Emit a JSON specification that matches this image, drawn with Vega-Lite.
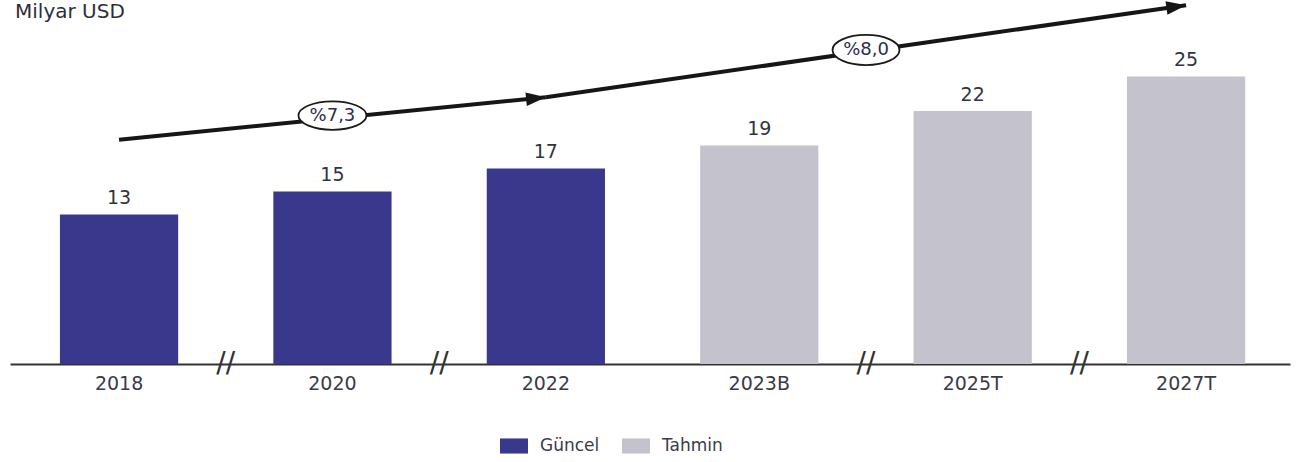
{
  "$schema": "https://vega.github.io/schema/vega-lite/v6.json",
  "width": 1280,
  "height": 344,
  "autosize": {"type": "none"},
  "padding": {"left": 10, "top": 20, "right": 7, "bottom": 98},
  "background": "white",
  "config": {"view": {"stroke": null}, "font": "DejaVu Sans"},
  "datasets": {
    "bars": [
      {"cat": "2018", "v": 13, "type": "Güncel"},
      {"cat": "2020", "v": 15, "type": "Güncel"},
      {"cat": "2022", "v": 17, "type": "Güncel"},
      {"cat": "2023B", "v": 19, "type": "Tahmin"},
      {"cat": "2025T", "v": 22, "type": "Tahmin"},
      {"cat": "2027T", "v": 25, "type": "Tahmin"}
    ],
    "trend": [
      {"seg": "a", "cat": "2018", "v": 19.5},
      {"seg": "a", "cat": "2022", "v": 23.2},
      {"seg": "b", "cat": "2022", "v": 23.2},
      {"seg": "b", "cat": "2027T", "v": 31.2}
    ],
    "cagr": [
      {"cat": "2020", "v": 21.6, "label": "%7,3"},
      {"cat": "2023B", "v": 27.3, "label": "%8,0"}
    ],
    "breaks": [
      {"cat": "2018", "v": 0},
      {"cat": "2020", "v": 0},
      {"cat": "2023B", "v": 0},
      {"cat": "2025T", "v": 0}
    ],
    "unit": [
      {"cat": "2018", "v": 30.1, "label": "Milyar USD"}
    ]
  },
  "encoding": {
    "x": {
      "field": "cat",
      "type": "nominal",
      "title": null,
      "scale": {
        "domain": ["2018", "2020", "2022", "2023B", "2025T", "2027T"],
        "paddingInner": 0.446,
        "paddingOuter": 0.222,
        "align": 0.527,
        "round": false
      },
      "axis": {
        "domainColor": "#333333",
        "domainWidth": 2,
        "ticks": false,
        "labelAngle": 0,
        "labelFont": "DejaVu Sans",
        "labelFontSize": 19,
        "labelColor": "#3a3a48",
        "labelPadding": 10
      }
    },
    "y": {
      "field": "v",
      "type": "quantitative",
      "axis": null,
      "scale": {"domain": [0, 29.91], "nice": false, "zero": true}
    }
  },
  "layer": [
    {
      "data": {"name": "bars"},
      "mark": {"type": "bar"},
      "encoding": {
        "color": {
          "field": "type",
          "type": "nominal",
          "scale": {"domain": ["Güncel", "Tahmin"], "range": ["#3a388c", "#c3c2cd"]},
          "legend": {
            "title": null,
            "orient": "none",
            "legendX": 490,
            "legendY": 412,
            "direction": "horizontal",
            "symbolType": "M-1,-0.54H1V0.54H-1Z",
            "symbolSize": 784,
            "symbolStrokeWidth": 0,
            "labelFont": "DejaVu Sans",
            "labelFontSize": 17,
            "labelColor": "#3a3a48",
            "labelOffset": 12,
            "columnPadding": 22,
            "padding": 0
          }
        }
      }
    },
    {
      "data": {"name": "bars"},
      "mark": {"type": "text", "baseline": "bottom", "dy": -6, "fontSize": 19, "color": "#333340", "font": "DejaVu Sans"},
      "encoding": {"text": {"field": "v", "type": "quantitative"}}
    },
    {
      "data": {"name": "trend"},
      "mark": {"type": "line", "strokeWidth": 4, "color": "#161616"},
      "encoding": {"detail": {"field": "seg"}}
    },
    {
      "data": {"name": "trend"},
      "transform": [{"filter": "datum.seg == 'a' && datum.cat == '2022'"}],
      "mark": {"type": "point", "shape": "M-2.2,-0.75L0,0L-2.2,0.75Z", "size": 324, "filled": true, "opacity": 1, "color": "#161616", "angle": -5.8}
    },
    {
      "data": {"name": "trend"},
      "transform": [{"filter": "datum.seg == 'b' && datum.cat == '2027T'"}],
      "mark": {"type": "point", "shape": "M-2.2,-0.75L0,0L-2.2,0.75Z", "size": 324, "filled": true, "opacity": 1, "color": "#161616", "angle": -8.2}
    },
    {
      "data": {"name": "cagr"},
      "transform": [{"filter": "datum.cat == '2020'"}],
      "mark": {"type": "point", "shape": "M-1,0A1,0.42,0,1,0,1,0A1,0.42,0,1,0,-1,0Z", "size": 4624, "filled": true, "fill": "white", "stroke": "#1a1a1a", "strokeWidth": 1.8, "opacity": 1}
    },
    {
      "data": {"name": "cagr"},
      "transform": [{"filter": "datum.cat == '2020'"}],
      "mark": {"type": "text", "fontSize": 18, "color": "#2d2d4f", "font": "DejaVu Sans", "baseline": "middle"},
      "encoding": {"text": {"field": "label"}}
    },
    {
      "data": {"name": "cagr"},
      "transform": [{"filter": "datum.cat == '2023B'"}],
      "mark": {"type": "point", "shape": "M-1,0A1,0.45,0,1,0,1,0A1,0.45,0,1,0,-1,0Z", "size": 4489, "filled": true, "fill": "white", "stroke": "#1a1a1a", "strokeWidth": 1.8, "opacity": 1},
      "encoding": {"x": {"field": "cat", "type": "nominal", "bandPosition": 1.403}}
    },
    {
      "data": {"name": "cagr"},
      "transform": [{"filter": "datum.cat == '2023B'"}],
      "mark": {"type": "text", "fontSize": 18, "color": "#2d2d4f", "font": "DejaVu Sans", "baseline": "middle"},
      "encoding": {"x": {"field": "cat", "type": "nominal", "bandPosition": 1.403}, "text": {"field": "label"}}
    },
    {
      "data": {"name": "breaks"},
      "mark": {"type": "text", "text": "//", "fontSize": 28, "color": "#333333", "font": "DejaVu Sans", "baseline": "middle"},
      "encoding": {"x": {"field": "cat", "type": "nominal", "bandPosition": 1.403}}
    },
    {
      "data": {"name": "unit"},
      "mark": {"type": "text", "align": "left", "baseline": "alphabetic", "fontSize": 20, "color": "#2e2e3a", "font": "DejaVu Sans"},
      "encoding": {"x": {"field": "cat", "type": "nominal", "bandPosition": -0.38}, "text": {"field": "label"}}
    }
  ]
}
